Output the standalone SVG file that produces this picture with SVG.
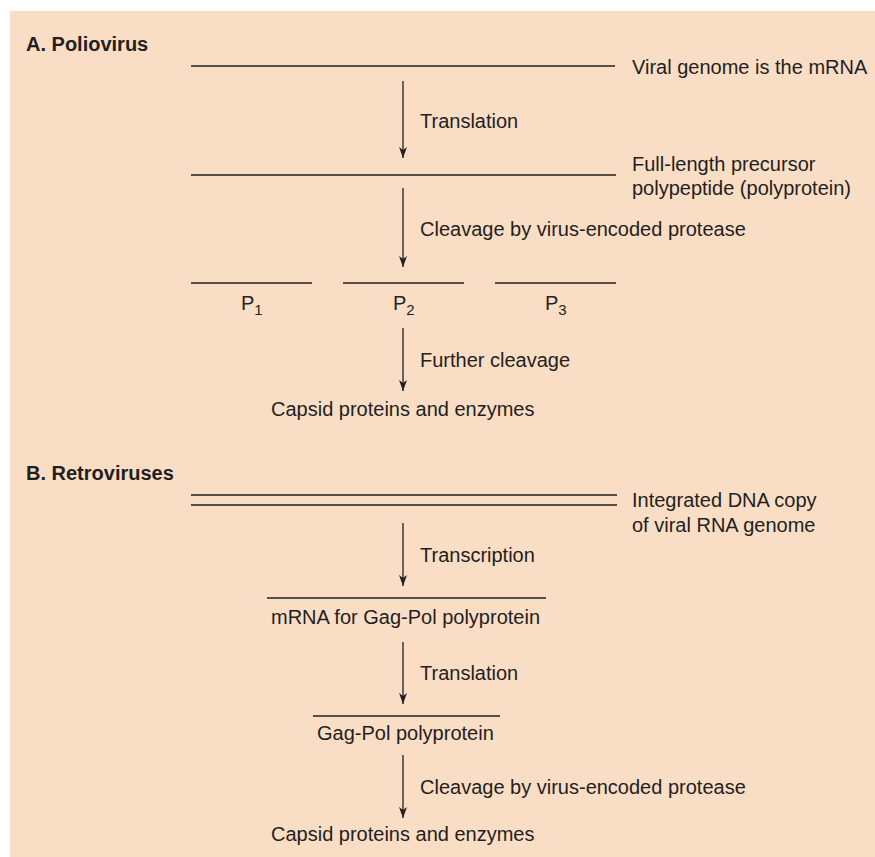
<svg xmlns="http://www.w3.org/2000/svg" width="875" height="857" viewBox="0 0 875 857">
<style>
.t{font-family:"Liberation Sans",Arial,sans-serif;font-size:20px;fill:#231f20}
.h{font-family:"Liberation Sans",Arial,sans-serif;font-size:20px;font-weight:bold;fill:#231f20}
.ln{stroke:#231f20;stroke-width:1.4;fill:none}
.ar{stroke:#231f20;stroke-width:1.3;fill:none;marker-end:url(#ah)}
.sub{font-size:15px}
</style>
<defs>
<marker id="ah" markerUnits="userSpaceOnUse" markerWidth="8" markerHeight="12" refX="4" refY="11" orient="0">
<path d="M0,0 L4,11 L8,0 L4,3 Z" fill="#231f20"/>
</marker>
</defs>
<rect x="10" y="11" width="865" height="846" fill="#FADDC5"/>

<g id="sectionA">
<text class="h" x="26" y="51">A. Poliovirus</text>
<g id="genomeA">
<line class="ln" x1="191" y1="66" x2="615" y2="66"/>
<text class="t" x="632" y="74">Viral genome is the mRNA</text>
</g>
<g id="precursor">
<line class="ln" x1="191" y1="175" x2="616" y2="175"/>
<text class="t" x="632" y="171">Full-length precursor</text>
<text class="t" x="632" y="195">polypeptide (polyprotein)</text>
</g>
<g id="P1">
<line class="ln" x1="191" y1="283" x2="312" y2="283"/>
<text class="t" x="241" y="310">P<tspan class="sub" dy="5">1</tspan></text>
</g>
<g id="P2">
<line class="ln" x1="343" y1="283" x2="464" y2="283"/>
<text class="t" x="393" y="310">P<tspan class="sub" dy="5">2</tspan></text>
</g>
<g id="P3">
<line class="ln" x1="495" y1="283" x2="616" y2="283"/>
<text class="t" x="545" y="310">P<tspan class="sub" dy="5">3</tspan></text>
</g>
<g id="capsidA">
<text class="t" x="271" y="416">Capsid proteins and enzymes</text>
</g>
</g>

<g id="sectionB">
<text class="h" x="26" y="480">B. Retroviruses</text>
<g id="dna">
<line class="ln" x1="191" y1="495" x2="617" y2="495"/>
<line class="ln" x1="191" y1="505" x2="617" y2="505"/>
<text class="t" x="632" y="507">Integrated DNA copy</text>
<text class="t" x="632" y="532">of viral RNA genome</text>
</g>
<g id="mrna">
<line class="ln" x1="267" y1="598" x2="546" y2="598"/>
<text class="t" x="271" y="624">mRNA for Gag-Pol polyprotein</text>
</g>
<g id="gagpol">
<line class="ln" x1="313" y1="716" x2="500" y2="716"/>
<text class="t" x="317" y="740">Gag-Pol polyprotein</text>
</g>
<g id="capsidB">
<text class="t" x="271" y="841">Capsid proteins and enzymes</text>
</g>
</g>

<g id="connectors">
<line class="ar" x1="403" y1="81" x2="403" y2="158"/>
<text class="t" x="420" y="128">Translation</text>
<line class="ar" x1="403" y1="188" x2="403" y2="267"/>
<text class="t" x="420" y="236">Cleavage by virus-encoded protease</text>
<line class="ar" x1="403" y1="328" x2="403" y2="391"/>
<text class="t" x="420" y="367">Further cleavage</text>
<line class="ar" x1="403" y1="523" x2="403" y2="586"/>
<text class="t" x="420" y="562">Transcription</text>
<line class="ar" x1="403" y1="642" x2="403" y2="704"/>
<text class="t" x="420" y="680">Translation</text>
<line class="ar" x1="403" y1="755" x2="403" y2="818"/>
<text class="t" x="420" y="794">Cleavage by virus-encoded protease</text>
</g>
</svg>
